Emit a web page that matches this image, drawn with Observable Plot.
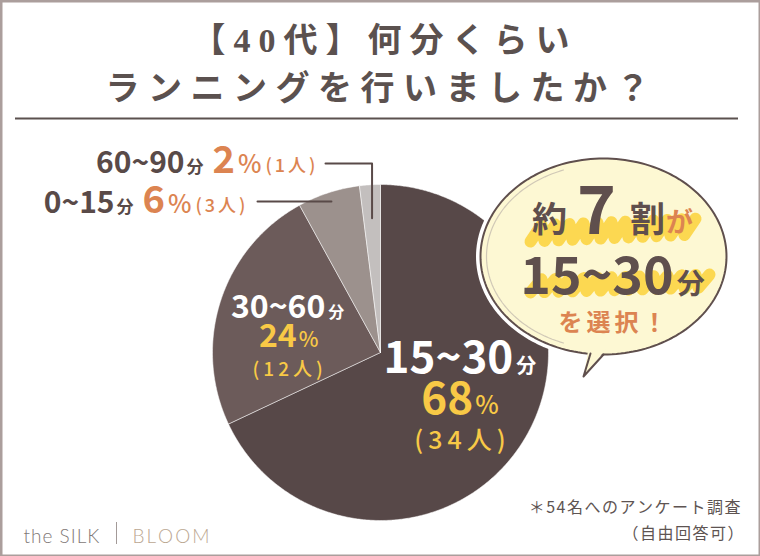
<!DOCTYPE html>
<html><head><meta charset="utf-8">
<script src="https://cdn.jsdelivr.net/npm/d3@7"></script>
<script src="https://cdn.jsdelivr.net/npm/@observablehq/plot@0.6"></script>
<style>
html,body{margin:0;padding:0;background:#fff;}
#chart svg{display:block;}
</style></head><body><div id="chart"></div>
<script>
// ---- data ----
const categories = ["15~30分", "30~60分", "0~15分", "60~90分"];
const percents = [68, 24, 6, 2];
const counts = [34, 12, 3, 1];
const titleLines = ["【40代】何分くらい", "ランニングを行いましたか？"];
const bubbleWords = ["約", "7", "割", "が", "15~30", "分", "を選択！"];
const noteLines = ["＊54名へのアンケート調査", "（自由回答可）"];
const brandWords = ["the SILK", "BLOOM"];

// ---- layout / style ----
const W = 760, H = 556;
const CX = 380, CY = 352, R = 168;
const FONT = '"Noto Sans CJK JP","Noto Sans",sans-serif';
const TFONT = '"Liberation Serif","Noto Sans CJK JP",serif';
const sliceColors = ["#574848", "#6c5b5a", "#9c918d", "#c3bfbe"];
const DARK = "#594a48", TITLE = "#5b514f", ORANGE = "#dc8451", YELLOW = "#f8c946";

const ctx = document.createElement("canvas").getContext("2d");
function runMarks(runs, ax, by, align) {
  const chars = []; let x = 0;
  runs.forEach((r, ri) => {
    x += r.before || 0;
    ctx.font = `${r.weight || 400} ${r.size}px ${r.family || FONT}`;
    const cs = [...r.t];
    cs.forEach((c, ci) => {
      const w = ctx.measureText(c).width;
      chars.push({ri, c, x, dy: r.dy || 0});
      x += w + (ci < cs.length - 1 ? (r.ls || 0) : 0);
    });
  });
  const total = x;
  const off = align === "middle" ? ax - total / 2 : align === "end" ? ax - total : ax;
  return runs.map((r, ri) => Plot.text(chars.filter(d => d.ri === ri), {
    x: d => d.x + off, y: d => by + d.dy, text: "c",
    textAnchor: "start", lineAnchor: "bottom",
    fontSize: r.size, fontWeight: r.weight || 400, fontFamily: r.family || FONT, fill: r.fill
  }));
}

// ---- pie geometry from data ----
const rows = categories.map((c, i) => ({category: c, percent: percents[i], count: counts[i]}));
const arcs = d3.pie().sort(null).value(d => d.percent)(rows);
const slicePts = [];
for (const a of arcs) {
  const n = Math.max(4, Math.ceil((a.endAngle - a.startAngle) / (Math.PI / 360)));
  slicePts.push({cat: a.data.category, x: CX, y: CY});
  for (let k = 0; k <= n; k++) {
    const t = a.startAngle + (a.endAngle - a.startAngle) * k / n;
    slicePts.push({cat: a.data.category, x: CX + R * Math.sin(t), y: CY - R * Math.cos(t)});
  }
  slicePts.push({cat: a.data.category, x: CX, y: CY});
}
const mid = a => (a.startAngle + a.endAngle) / 2;
const at = (a, f) => ({x: CX + f * R * Math.sin(mid(a)), y: CY - f * R * Math.cos(mid(a))});

// leader lines
const p3 = at(arcs[3], 0.8), p2 = at(arcs[2], 0.945);
const row3Y = 163;
const leaders = [
  {g: 3, x: 325, y: row3Y}, {g: 3, x: p3.x, y: row3Y}, {g: 3, x: p3.x, y: p3.y},
  {g: 2, x: 257, y: p2.y}, {g: 2, x: p2.x, y: p2.y}
];

// inner labels
const c0 = at(arcs[0], 0.56), c1 = at(arcs[1], 0.6);
const [n0, u0] = [categories[0].slice(0, -1), categories[0].slice(-1)];
const [n1, u1] = [categories[1].slice(0, -1), categories[1].slice(-1)];
const [n2, u2] = [categories[2].slice(0, -1), categories[2].slice(-1)];
const [n3, u3] = [categories[3].slice(0, -1), categories[3].slice(-1)];

// bubble decoration
const BX = 603, BY = 256, RX = 123, RY = 98;
const ell = d3.range(0, 361, 2).map(d => ({x: BX + RX * Math.cos(d * Math.PI / 180), y: BY + RY * Math.sin(d * Math.PI / 180)}));
const innerEll = d3.range(110, 251, 2).map(d => ({x: BX + (RX - 6) * Math.cos(d * Math.PI / 180), y: BY + (RY - 6) * Math.sin(d * Math.PI / 180)}));
const tailFill = [{x: 588, y: 348}, {x: 583, y: 376}, {x: 606, y: 348}];
const tailLine = [{x: 590, y: 353}, {x: 583, y: 376}, {x: 603, y: 354}];
function zig(x0, x1, yTop, yBot, slant) {
  const pts = []; let i = 0;
  for (let x = x0; x <= x1; x += 7, i++) {
    const s = slant * (x - x0) / (x1 - x0);
    pts.push({x: x + (i % 2 ? 4 : 0), y: (i % 2 ? yTop : yBot) - s});
  }
  return pts;
}
const band1 = zig(530, 696, 225, 241, 7);
const band2 = zig(530, 708, 279, 292, 5);

const TX = 612;
const bandStyle = {x: "x", y: "y", stroke: "#fcd64a", strokeWidth: 12, strokeOpacity: 0.95, strokeLinejoin: "round", strokeLinecap: "round"};

const marks = [
  Plot.frame({stroke: "#ab9e9c", strokeWidth: 4}),
  Plot.ruleY([118], {x1: 15, x2: 738, stroke: TITLE, strokeWidth: 2}),
  // title
  ...runMarks([{t: titleLines[0], size: 34, weight: 700, fill: TITLE, ls: 8, family: TFONT}], 380, 51, "middle"),
  ...runMarks([{t: titleLines[1], size: 34, weight: 700, fill: TITLE, ls: 8.5, family: TFONT}], 377, 99, "middle"),
  // pie
  Plot.line(slicePts, {x: "x", y: "y", z: "cat", fill: "cat", stroke: "#ffffff", strokeWidth: 1, strokeOpacity: 0.5}),
  // leaders
  Plot.line(leaders, {x: "x", y: "y", z: "g", stroke: DARK, strokeWidth: 2}),
  // outer labels
  ...runMarks([
    {t: n3, size: 30, weight: 700, fill: DARK},
    {t: u3, size: 17, weight: 700, fill: DARK, before: 2},
    {t: String(percents[3]), size: 38, weight: 700, fill: ORANGE, before: 9},
    {t: "%", size: 25, weight: 500, fill: ORANGE, before: 3},
    {t: `(${counts[3]}人)`, size: 18, weight: 500, fill: ORANGE, before: 4, ls: 3, dy: -1}
  ], 315, row3Y + 9, "end"),
  ...runMarks([
    {t: n2, size: 30, weight: 700, fill: DARK},
    {t: u2, size: 17, weight: 700, fill: DARK, before: 2},
    {t: String(percents[2]), size: 38, weight: 700, fill: ORANGE, before: 9},
    {t: "%", size: 25, weight: 500, fill: ORANGE, before: 3},
    {t: `(${counts[2]}人)`, size: 18, weight: 500, fill: ORANGE, before: 4, ls: 3, dy: -1}
  ], 245, p2.y + 11, "end"),
  // inner labels
  ...runMarks([
    {t: n0, size: 44, weight: 700, fill: "#ffffff"},
    {t: u0, size: 20, weight: 700, fill: "#ffffff", before: 3}
  ], c0.x, c0.y - 30, "middle"),
  ...runMarks([
    {t: String(percents[0]), size: 44, weight: 700, fill: YELLOW},
    {t: "%", size: 25, weight: 500, fill: YELLOW, before: 2}
  ], c0.x, c0.y + 11, "middle"),
  ...runMarks([{t: `(${counts[0]}人)`, size: 25, weight: 500, fill: YELLOW, ls: 5}], c0.x, c0.y + 46, "middle"),
  ...runMarks([
    {t: n1, size: 32, weight: 700, fill: "#ffffff"},
    {t: u1, size: 16, weight: 700, fill: "#ffffff", before: 3}
  ], c1.x + 3, c1.y - 3, "middle"),
  ...runMarks([
    {t: String(percents[1]), size: 32, weight: 700, fill: YELLOW},
    {t: "%", size: 21, weight: 500, fill: YELLOW, before: 2}
  ], c1.x + 4, c1.y + 26, "middle"),
  ...runMarks([{t: `(${counts[1]}人)`, size: 19, weight: 500, fill: YELLOW, ls: 4}], c1.x + 3, c1.y + 55, "middle"),
  // bubble
  Plot.line(ell, {x: "x", y: "y", stroke: "#ffffff", strokeWidth: 9}),
  Plot.line(tailLine, {x: "x", y: "y", stroke: "#ffffff", strokeWidth: 9, strokeLinejoin: "round"}),
  Plot.line(ell, {x: "x", y: "y", fill: "#fdf8d3", stroke: "#5f4f4d", strokeWidth: 2}),
  Plot.line(innerEll, {x: "x", y: "y", stroke: "#b3a8a3", strokeWidth: 1.2, strokeOpacity: 0.6}),
  Plot.line(tailFill, {x: "x", y: "y", fill: "#fdf8d3"}),
  Plot.line(tailLine, {x: "x", y: "y", stroke: "#5f4f4d", strokeWidth: 2}),
  Plot.line(band1, bandStyle),
  Plot.line(band2, bandStyle),
  ...runMarks([
    {t: bubbleWords[0], size: 35, weight: 700, fill: "#5f4f4d", dy: -2},
    {t: bubbleWords[1], size: 66, weight: 700, fill: "#5f4f4d", before: 10},
    {t: bubbleWords[2], size: 35, weight: 700, fill: "#5f4f4d", before: 14, dy: -2},
    {t: bubbleWords[3], size: 27, weight: 700, fill: ORANGE, before: 1, dy: -2}
  ], TX, 233, "middle"),
  ...runMarks([
    {t: bubbleWords[4], size: 52, weight: 700, fill: "#5f4f4d"},
    {t: bubbleWords[5], size: 28, weight: 700, fill: "#5f4f4d", before: 3}
  ], TX, 293, "middle"),
  ...runMarks([{t: bubbleWords[6], size: 24, weight: 700, fill: ORANGE, ls: 4}], TX, 330, "middle"),
  // note
  ...runMarks([{t: noteLines[0], size: 16, weight: 400, fill: "#5e5452", ls: 1.5}], 740, 512, "end"),
  ...runMarks([{t: noteLines[1], size: 16, weight: 400, fill: "#5e5452", ls: 1.5}], 743, 538, "end"),
  // brand
  ...runMarks([{t: brandWords[0], size: 19, weight: 300, fill: "#7f7876", ls: 1, family: "Lato, 'Noto Sans', sans-serif"}], 23, 542, "start"),
  Plot.ruleX([116], {y1: 522, y2: 544, stroke: "#a39a98", strokeWidth: 1}),
  ...runMarks([{t: brandWords[1], size: 19, weight: 300, fill: "#bba791", ls: 2, family: "Lato, 'Noto Sans', sans-serif"}], 132, 542, "start")
];

const chart = Plot.plot({
  width: W, height: H, margin: 0,
  x: {domain: [0, W], range: [0, W], axis: null},
  y: {domain: [0, H], range: [0, H], axis: null},
  color: {domain: categories, range: sliceColors},
  style: {background: "#ffffff"},
  marks
});
document.getElementById("chart").appendChild(chart);
</script></body></html>
